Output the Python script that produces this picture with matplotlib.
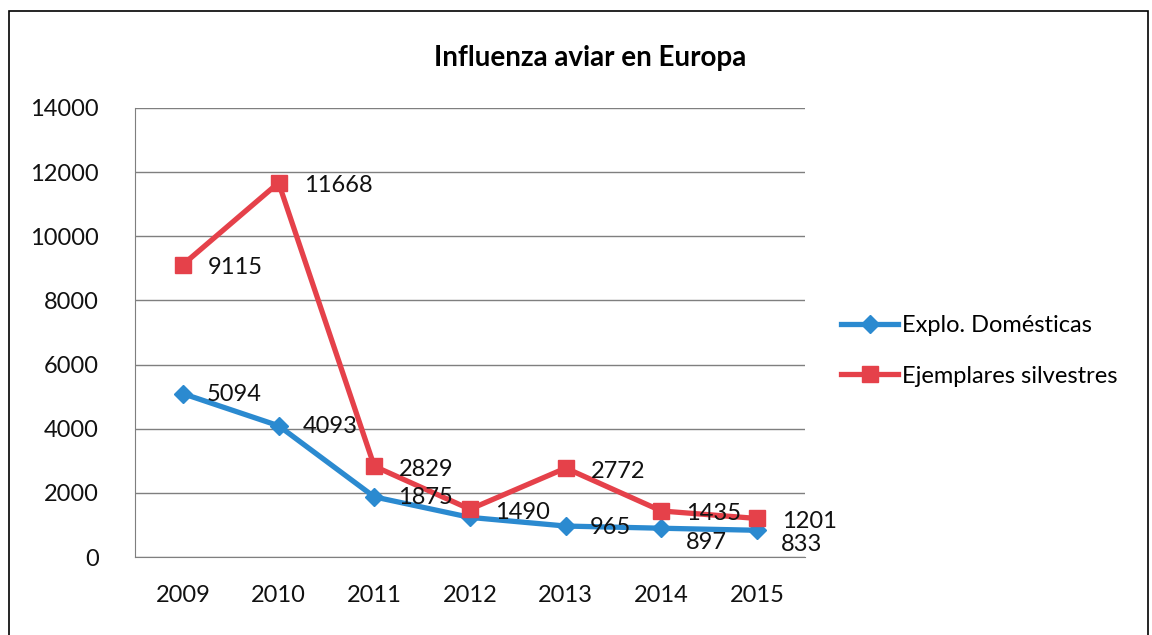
import matplotlib.pyplot as plt
from matplotlib.patches import Rectangle

plt.rcParams['font.family'] = ['Lato', 'DejaVu Sans']

# Datos
anios = ['2009', '2010', '2011', '2012', '2013', '2014', '2015']
domesticas = [5094, 4093, 1875, 1235, 965, 897, 833]
silvestres = [9115, 11668, 2829, 1490, 2772, 1435, 1201]
etiquetas_dom = ['5094', '4093', '1875', '', '965', '897', '833']
etiquetas_sil = ['9115', '11668', '2829', '1490', '2772', '1435', '1201']

azul = '#2B8AD0'
rojo = '#E5414A'

fig = plt.figure(figsize=(11.52, 6.35), dpi=100)
ax = fig.add_axes([135 / 1152, 1 - 557 / 635, 670 / 1152, 449 / 635])

x = range(len(anios))
ax.plot(x, domesticas, color=azul, lw=3.8, marker='D', ms=9, label='Explo. Domésticas')
ax.plot(x, silvestres, color=rojo, lw=3.8, marker='s', ms=12, label='Ejemplares silvestres')

# Etiquetas de datos
for i, (v, t) in enumerate(zip(domesticas, etiquetas_dom)):
    dy = -14 if i >= 5 else -1
    ax.annotate(t, (i, v), xytext=(24, dy), textcoords='offset pixels',
                ha='left', va='center', fontsize=17, color='#111111')
for i, (v, t) in enumerate(zip(silvestres, etiquetas_sil)):
    ax.annotate(t, (i, v), xytext=(25, -3), textcoords='offset pixels',
                ha='left', va='center', fontsize=17, color='#111111')

ax.set_xlim(-0.5, len(anios) - 0.5)
ax.set_ylim(0, 14000)
ax.set_yticks(range(0, 14001, 2000))
ax.set_xticks(list(x))
ax.set_xticklabels(anios)
ax.tick_params(length=0, labelsize=17, colors='#111111')
ax.tick_params(axis='y', pad=26)
ax.tick_params(axis='x', pad=20)
ax.yaxis.grid(True, color='#7f7f7f', lw=1)
ax.set_axisbelow(True)
for s in ['top', 'right']:
    ax.spines[s].set_visible(False)
ax.spines['left'].set_color('#7f7f7f')
ax.spines['bottom'].set_color('#7f7f7f')

fig.text(590 / 1152, 1 - 58 / 635, 'Influenza aviar en Europa', ha='center', va='center',
         fontsize=20, fontweight='bold')

ax.legend(loc='center left', bbox_to_anchor=((832 - 135) / 670, 1 - (351 - 108) / 449), frameon=False,
          fontsize=17, handlelength=2.4, handletextpad=0.15, labelspacing=1.25, borderaxespad=0)

fig.patches.append(Rectangle((9 / 1152, -0.05), 1139 / 1152, 1.05 - 11 / 635, transform=fig.transFigure,
                             fill=False, edgecolor='black', lw=1.2))

fig.savefig('out.png', dpi=100)
